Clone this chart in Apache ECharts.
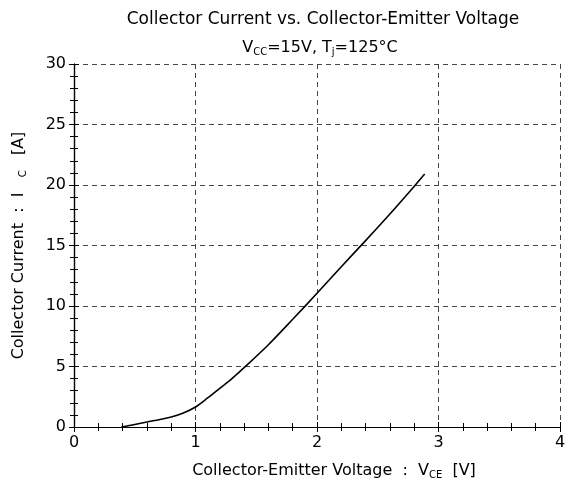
<!DOCTYPE html>
<html>
<head>
<meta charset="utf-8">
<script src="https://cdn.jsdelivr.net/npm/echarts@6/dist/echarts.min.js"></script>
<style>
  html, body { margin: 0; padding: 0; background: #fff; }
  #chart { width: 574px; height: 489px; }
</style>
</head>
<body>
<div id="chart"></div>
<script>
// Collector current curve, Vcc=15V, Tj=125C
var vce = [0.39, 0.5, 0.6, 0.7, 0.8, 0.9, 1.0, 1.1, 1.2, 1.3, 1.4, 1.6, 1.8, 2.0, 2.2, 2.4, 2.6, 2.81, 2.886];
var ic = [0, 0.2, 0.42, 0.6, 0.82, 1.15, 1.65, 2.4, 3.2, 4.0, 4.9, 6.8, 8.9, 11.05, 13.25, 15.4, 17.6, 20.0, 20.9];
var xTicks = [0, 1, 2, 3, 4];
var yTicks = [0, 5, 10, 15, 20, 25, 30];

var font = "DejaVu Sans, sans-serif";
var chart = echarts.init(document.getElementById("chart"));

var sub = { fontSize: 10, verticalAlign: "bottom", padding: [9, 0, 0, 0], fontFamily: font, color: "#000" };

var frameAxis = {
  axisLine: { show: true, lineStyle: { color: "#000", width: 1.2 } },
  axisTick: { show: true, inside: true, length: 5, lineStyle: { color: "#000" } },
  minorTick: { show: true, splitNumber: 5, length: 4, lineStyle: { color: "#000" } }
};

var option = {
  backgroundColor: "#fff",
  animation: false,
  title: [
    {
      text: "Collector Current vs. Collector-Emitter Voltage",
      left: 318,
      textAlign: "center",
      top: 6,
      textStyle: { fontSize: 17, fontWeight: "normal", color: "#000", fontFamily: font }
    },
    {
      text: "V{sub|CC}=15V, T{sub|j}=125°C",
      left: 315,
      textAlign: "center",
      top: 33,
      textStyle: { fontSize: 16, fontWeight: "normal", color: "#000", fontFamily: font, rich: { sub: sub } }
    }
  ],
  grid: { left: 74, right: 14, top: 64, bottom: 62 },
  xAxis: [
    Object.assign({
      type: "value", min: 0, max: 4, interval: 1,
      name: "Collector-Emitter Voltage  :  V{sub|CE}  [V]",
      nameLocation: "middle", nameGap: 34,
      nameTextStyle: { fontSize: 16, color: "#000", fontFamily: font, padding: [0, 0, 0, 34], rich: { sub: sub } },
      axisLabel: { color: "#000", fontSize: 16, fontFamily: font, margin: 8, formatter: function (v) { return xTicks.indexOf(v) >= 0 ? v : ""; } },
      splitLine: { show: true, lineStyle: { color: "#444", type: [5, 4], width: 1 } }
    }, frameAxis),
    Object.assign({
      type: "value", min: 0, max: 4, interval: 1, position: "top",
      axisLabel: { show: false }, splitLine: { show: false }
    }, frameAxis)
  ],
  yAxis: [
    Object.assign({
      type: "value", min: 0, max: 30, interval: 5,
      name: "Collector Current  :  I   {sub|C}   [A]",
      nameLocation: "middle", nameGap: 46,
      nameTextStyle: { fontSize: 16, color: "#000", fontFamily: font, rich: { sub: sub } },
      axisLabel: { color: "#000", fontSize: 16, fontFamily: font, margin: 8, formatter: function (v) { return yTicks.indexOf(v) >= 0 ? v : ""; } },
      splitLine: { show: true, lineStyle: { color: "#444", type: [5, 4], width: 1 } }
    }, frameAxis),
    Object.assign({
      type: "value", min: 0, max: 30, interval: 5, position: "right",
      axisLabel: { show: false }, splitLine: { show: false }
    }, frameAxis)
  ],
  series: [
    {
      type: "line",
      data: vce.map(function (x, i) { return [x, ic[i]]; }),
      smooth: 0.3,
      showSymbol: false,
      lineStyle: { color: "#000", width: 1.6 }
    }
  ]
};

chart.setOption(option);
</script>
</body>
</html>
